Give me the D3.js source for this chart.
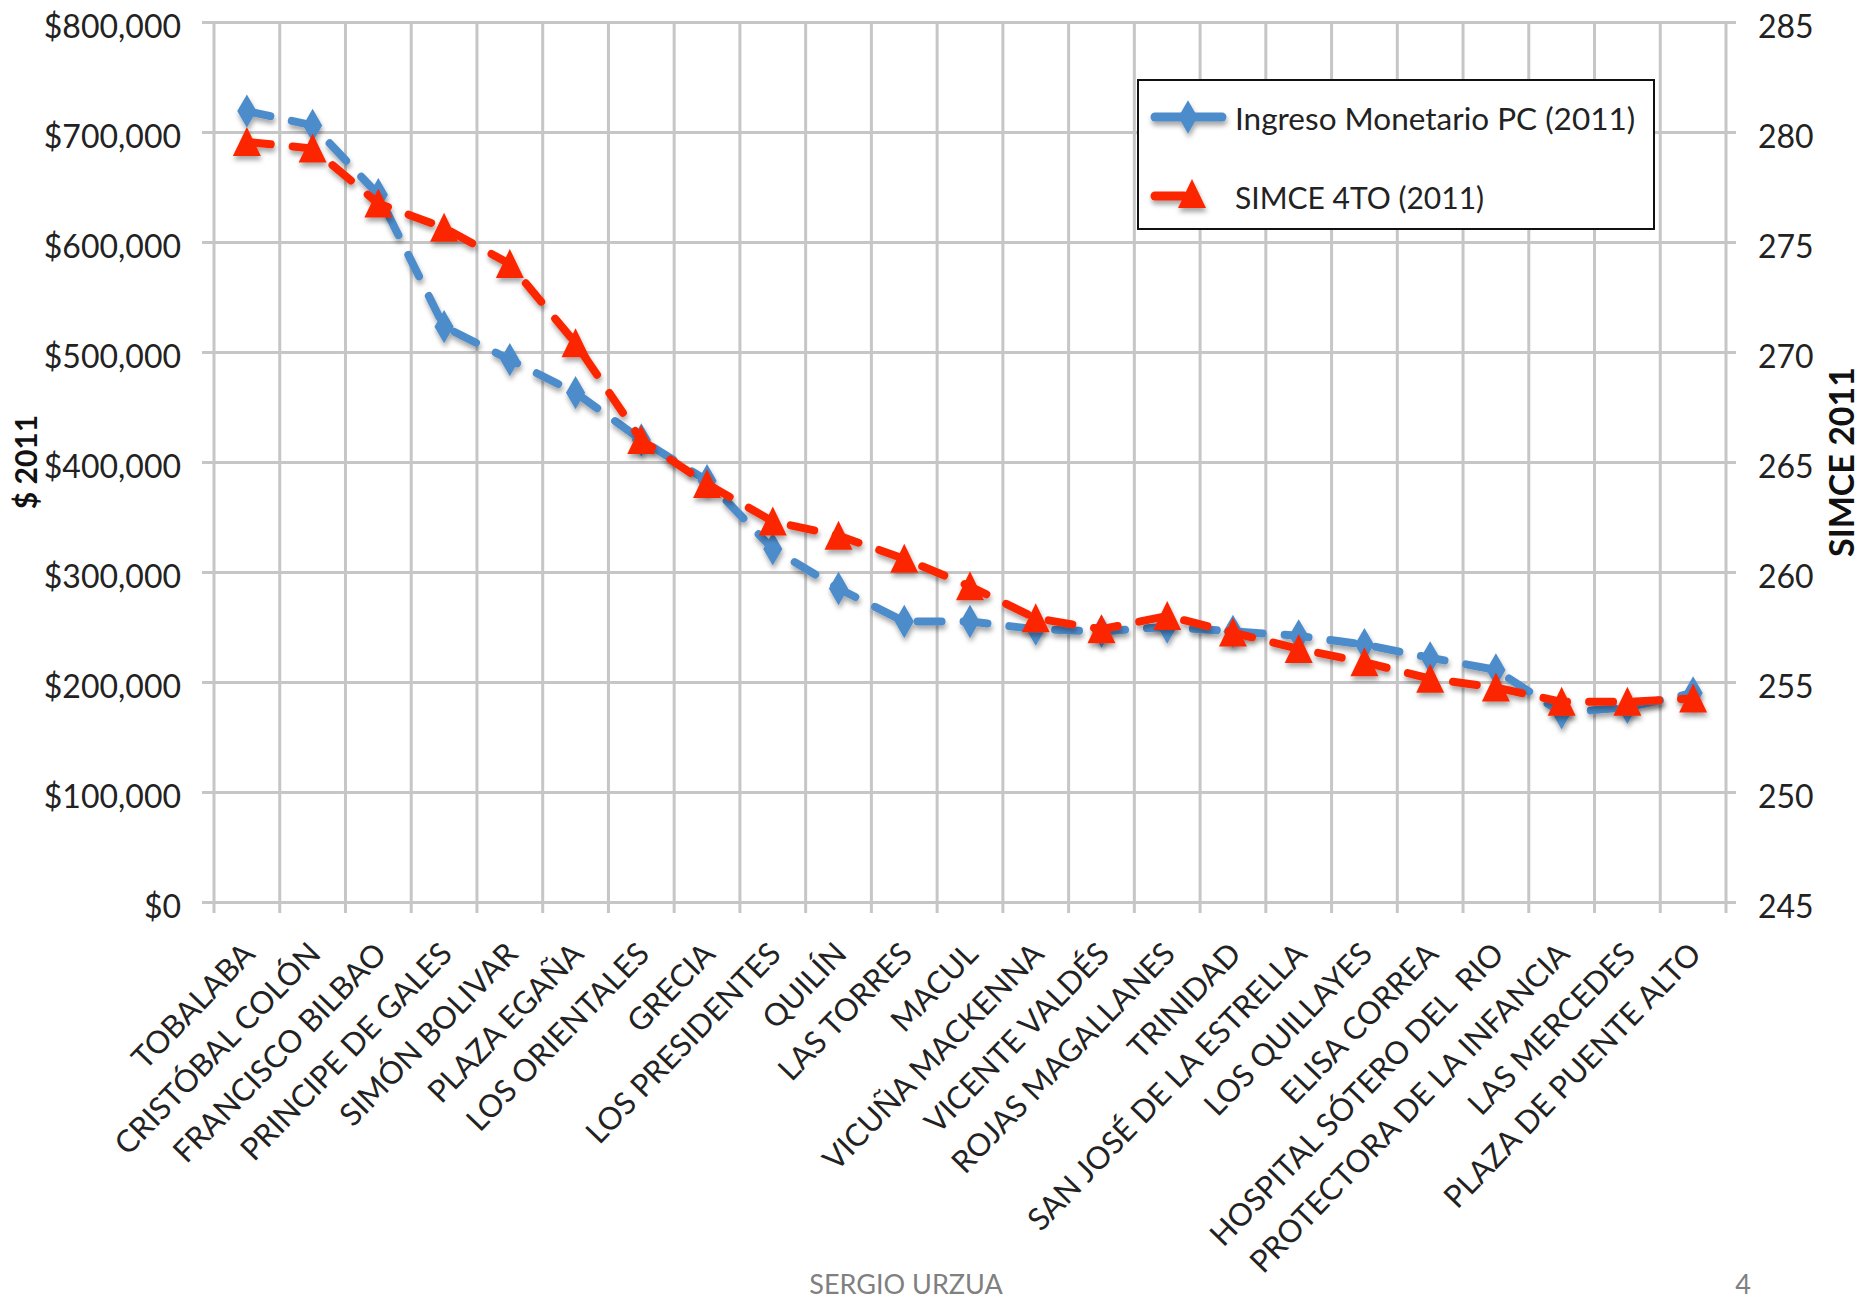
<!DOCTYPE html>
<html><head><meta charset="utf-8">
<script src="https://cdn.jsdelivr.net/npm/d3@7"></script>
<style>
html,body{margin:0;padding:0;background:#fff;}
svg text{font-family:Lato,"Open Sans",sans-serif;}
</style></head>
<body>
<svg id="chart" width="1862" height="1301"></svg>
<script>
const categories = ["TOBALABA","CRISTÓBAL COLÓN","FRANCISCO BILBAO","PRINCIPE DE GALES","SIMÓN BOLIVAR","PLAZA EGAÑA","LOS ORIENTALES","GRECIA","LOS PRESIDENTES","QUILÍN","LAS TORRES","MACUL","VICUÑA MACKENNA","VICENTE VALDÉS","ROJAS MAGALLANES","TRINIDAD","SAN JOSÉ DE LA ESTRELLA","LOS QUILLAYES","ELISA CORREA","HOSPITAL SÓTERO DEL  RIO","PROTECTORA DE LA INFANCIA","LAS MERCEDES","PLAZA DE PUENTE ALTO"];
const ingreso = [719000,706000,643000,523000,493000,463000,420000,383000,321000,285000,255000,255000,248000,246000,250000,246000,242000,234000,222000,211000,172000,177000,190000];
const simce = [279.55,279.25,276.75,275.65,274.0,270.4,266.0,264.0,262.3,261.65,260.6,259.35,257.9,257.4,258.0,257.25,256.5,255.9,255.15,254.75,254.1,254.1,254.25];
const leftTicks = [0,100000,200000,300000,400000,500000,600000,700000,800000];
const rightTicks = [245,250,255,260,265,270,275,280,285];
const seriesNames = ["Ingreso Monetario PC (2011)","SIMCE 4TO (2011)"];
const leftTitle = "$ 2011";
const rightTitle = "SIMCE 2011";
const footerLeft = "SERGIO URZUA";
const footerRight = "4";

const svg = d3.select("#chart");
const L = 214, R = 1726, T = 22, B = 902;
const gridColor = "#c6c6c6";
const blue = "#4d8ccb", red = "#fb2700";

const x = d3.scaleBand().domain(categories).range([L, R]).padding(0);
const yL = d3.scaleLinear().domain([0, 800000]).range([B, T]);
const yR = d3.scaleLinear().domain([245, 285]).range([B, T]);
const cx = c => x(c) + x.bandwidth() / 2;

const defs = svg.append("defs");
const f = defs.append("filter").attr("id","shadow").attr("x","-20%").attr("y","-20%").attr("width","140%").attr("height","160%");
f.append("feDropShadow").attr("dx",1).attr("dy",4).attr("stdDeviation",2.5).attr("flood-color","#000").attr("flood-opacity",0.35);

// vertical gridlines at band boundaries
const bounds = categories.map(c => x(c)).concat([x.range()[1]]);
svg.append("g").selectAll("line").data(bounds).join("line")
  .attr("x1", d => d).attr("x2", d => d).attr("y1", T).attr("y2", B + 11)
  .attr("stroke", gridColor).attr("stroke-width", 3);

// left axis with horizontal gridlines
const gL = svg.append("g").attr("transform", `translate(${L - 12},0)`)
  .call(d3.axisLeft(yL).tickValues(leftTicks).tickSize(-(R - L + 22)).tickPadding(21).tickFormat(d3.format("$,.0f")));
gL.select(".domain").remove();
gL.selectAll(".tick line").attr("stroke", gridColor).attr("stroke-width", 3);
gL.selectAll(".tick text").attr("fill", "#222").attr("font-size", 32).attr("dy", "0.36em").attr("y", 4)
  .style("font-family", "Lato, sans-serif");

// right axis labels
const gR = svg.append("g").attr("transform", `translate(${R},0)`)
  .call(d3.axisRight(yR).tickValues(rightTicks).tickSize(0).tickPadding(32));
gR.select(".domain").remove();
gR.selectAll(".tick text").attr("fill", "#222").attr("font-size", 32).attr("dy", "0.36em").attr("y", 4)
  .style("font-family", "Lato, sans-serif");

// bottom axis labels
const gB = svg.append("g").attr("transform", `translate(0,${B})`)
  .call(d3.axisBottom(x).tickSize(0).tickPadding(0));
gB.select(".domain").remove();
gB.selectAll(".tick text").attr("fill", "#222").attr("font-size", 31)
  .attr("x", 0).attr("y", 0).attr("dy", "0.35em")
  .attr("text-anchor", "end")
  .attr("transform", "translate(2,46) rotate(-46)")
  .style("font-family", "Lato, sans-serif").style("white-space", "pre");

// axis titles
svg.append("text").attr("transform", `translate(26,${(T + B) / 2}) rotate(-90)`)
  .attr("text-anchor", "middle").attr("dy", "0.35em").attr("font-size", 30).attr("font-weight", "bold").attr("fill", "#111")
  .text(leftTitle);
svg.append("text").attr("transform", `translate(1842,${(T + B) / 2}) rotate(-90)`)
  .attr("text-anchor", "middle").attr("dy", "0.35em").attr("font-size", 34).attr("font-weight", "bold").attr("fill", "#111")
  .text(rightTitle);

// series
const idx = d3.range(categories.length);
const lineL = d3.line().x(i => cx(categories[i])).y(i => yL(ingreso[i]));
const lineR = d3.line().x(i => cx(categories[i])).y(i => yR(simce[i]));
const triPath = "M0,-15L14,14L-14,14Z";
const diamond = d3.symbol().type(d3.symbolDiamond).size(320);

const gBlue = svg.append("g").attr("filter", "url(#shadow)");
gBlue.append("path").attr("d", lineL(idx)).attr("fill", "none").attr("stroke", blue)
  .attr("stroke-width", 8).attr("stroke-dasharray", "24 22").attr("stroke-linecap", "round");
gBlue.selectAll("path.m").data(idx).join("path").attr("class", "m")
  .attr("d", diamond).attr("transform", i => `translate(${cx(categories[i])},${yL(ingreso[i])})`).attr("fill", blue);

const gRed = svg.append("g").attr("filter", "url(#shadow)");
gRed.append("path").attr("d", lineR(idx)).attr("fill", "none").attr("stroke", red)
  .attr("stroke-width", 8).attr("stroke-dasharray", "24 22").attr("stroke-linecap", "round");
gRed.selectAll("path.m").data(idx).join("path").attr("class", "m")
  .attr("d", triPath).attr("transform", i => `translate(${cx(categories[i])},${yR(simce[i])})`).attr("fill", red);

// legend
const lg = svg.append("g");
lg.append("rect").attr("x", 1138).attr("y", 80).attr("width", 516).attr("height", 149)
  .attr("fill", "#fff").attr("stroke", "#111").attr("stroke-width", 2);
const lb = lg.append("g").attr("filter", "url(#shadow)");
lb.append("line").attr("x1", 1155).attr("x2", 1222).attr("y1", 117).attr("y2", 117)
  .attr("stroke", blue).attr("stroke-width", 9).attr("stroke-linecap", "round");
lb.append("path").attr("d", diamond).attr("transform", "translate(1188,117)").attr("fill", blue);
const lr = lg.append("g").attr("filter", "url(#shadow)");
lr.append("line").attr("x1", 1155).attr("x2", 1184).attr("y1", 196).attr("y2", 196)
  .attr("stroke", red).attr("stroke-width", 9).attr("stroke-linecap", "round");
lr.append("path").attr("d", triPath).attr("transform", "translate(1192,194)").attr("fill", red);
lg.selectAll("text").data(seriesNames).join("text")
  .attr("x", 1235).attr("y", (d, i) => i === 0 ? 119 : 198).attr("dy", "0.35em")
  .attr("font-size", (d, i) => i === 0 ? 31.5 : 30).attr("fill", "#222").text(d => d);

// footer
svg.append("text").attr("x", 906).attr("y", 1285).attr("dy", "0.35em").attr("text-anchor", "middle")
  .attr("font-size", 27).attr("fill", "#808080").text(footerLeft);
svg.append("text").attr("x", 1743).attr("y", 1285).attr("dy", "0.35em").attr("text-anchor", "middle")
  .attr("font-size", 27).attr("fill", "#808080").text(footerRight);
</script>
</body></html>
